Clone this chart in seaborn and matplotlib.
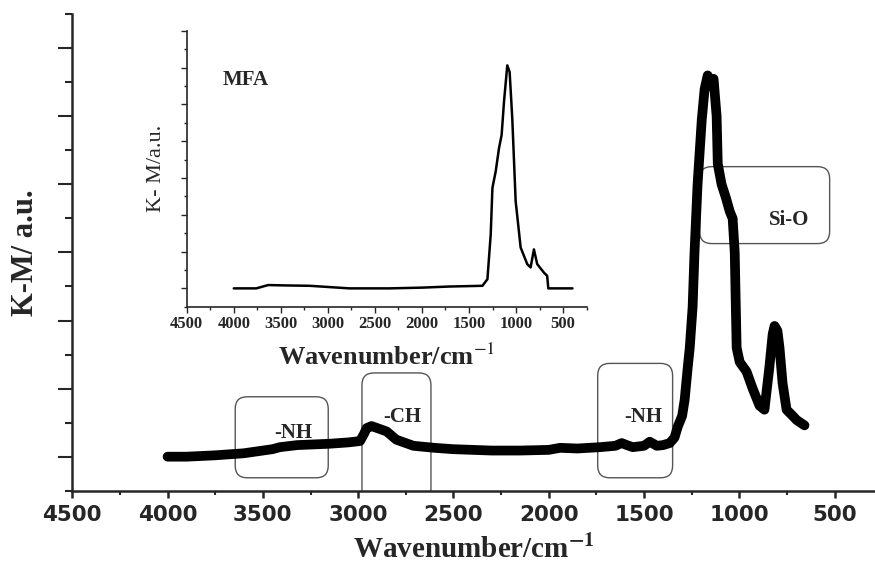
import matplotlib
matplotlib.use("Agg")
import pandas as pd
import matplotlib.pyplot as plt
import seaborn as sns
from matplotlib.patches import FancyBboxPatch
from matplotlib.transforms import IdentityTransform
from matplotlib.ticker import MultipleLocator

# main spectrum
main_wn = [4000, 3900, 3750, 3600, 3550, 3450, 3410, 3320, 3150, 3050, 2990, 2970,
           2955, 2930, 2900, 2850, 2800, 2750, 2710, 2600, 2500, 2300, 2150, 2000,
           1940, 1850, 1730, 1650, 1617, 1590, 1559, 1500, 1470, 1433, 1400, 1365,
           1340, 1323, 1300, 1287, 1271, 1260, 1245, 1235, 1219, 1197, 1182, 1166,
           1150, 1135, 1119, 1113, 1093, 1070, 1050, 1035, 1024, 1014, 998, 962,
           930, 894, 868, 842, 825, 815, 800, 789, 773, 752, 720, 700, 658]
main_km = [0.0, 0.0, 0.02, 0.05, 0.07, 0.11, 0.14, 0.17, 0.19, 0.21, 0.23, 0.33,
           0.42, 0.45, 0.42, 0.37, 0.25, 0.2, 0.16, 0.13, 0.11, 0.09, 0.09, 0.1,
           0.13, 0.12, 0.14, 0.16, 0.2, 0.17, 0.14, 0.16, 0.22, 0.16, 0.17, 0.2,
           0.28, 0.44, 0.6, 0.83, 1.3, 1.6, 2.2, 3.0, 4.0, 4.95, 5.4, 5.6,
           5.45, 5.55, 5.0, 4.3, 4.0, 3.8, 3.6, 3.5, 3.0, 1.6, 1.39, 1.25,
           1.0, 0.75, 0.69, 1.32, 1.8, 1.92, 1.85, 1.6, 1.08, 0.69, 0.6, 0.54, 0.46]

# inset spectrum (MFA)
inset_wn = [4000, 3760, 3635, 3450, 3193, 2770, 2346, 2000, 1710, 1357, 1304, 1269,
            1251, 1216, 1181, 1153, 1128, 1093, 1068, 1040, 1004, 951, 881, 845,
            810, 775, 704, 669, 657, 400]
inset_km = [0.0, 0.0, 0.09, 0.08, 0.07, 0.0, 0.0, 0.02, 0.05, 0.07, 0.25, 1.47,
            2.73, 3.18, 3.81, 4.17, 5.07, 6.06, 5.88, 4.62, 2.37, 1.11, 0.66, 0.57,
            1.06, 0.66, 0.43, 0.34, 0.0, 0.0]

tick_vals = [4500, 4000, 3500, 3000, 2500, 2000, 1500, 1000, 500]
tick_labels = [str(v) for v in tick_vals]

# annotation boxes: (left wn, right wn, bottom, top) and labels
box_x0 = [3645, 2980, 1743, 1208]
box_x1 = [3157, 2618, 1350, 526]
box_y0 = [-0.31, -0.8, -0.31, 3.13]
box_y1 = [0.88, 1.23, 1.37, 4.26]
band_labels = ["-NH", "-CH", "-NH", "Si-O"]
label_wn = [3342, 2770, 1506, 736]
label_km = [0.35, 0.58, 0.58, 3.47]

sns.set_style("ticks")
plt.rcParams["font.family"] = ["Liberation Serif", "DejaVu Serif"]
plt.rcParams["mathtext.fontset"] = "stix"

main_df = pd.DataFrame({"wn": main_wn, "km": main_km})
inset_df = pd.DataFrame({"wn": inset_wn, "km": inset_km})

fig = plt.figure(figsize=(8.75, 5.66), dpi=100)
ax = fig.add_axes([0.0826, 0.133, 0.9174, 0.842])
sns.lineplot(data=main_df, x="wn", y="km", ax=ax, color="black", linewidth=7,
             sort=False, estimator=None)
ax.set_xlim(4500, 288)
ax.set_ylim(-0.5, 6.5)
ax.set_xticks(tick_vals)
ax.set_xticklabels(tick_labels, fontfamily="DejaVu Sans", fontweight="bold", fontsize=15.5)
ax.xaxis.set_minor_locator(MultipleLocator(250))
ax.set_yticks(range(7))
ax.set_yticklabels([])
ax.yaxis.set_minor_locator(MultipleLocator(0.5))
ax.tick_params(axis="x", which="major", length=5, width=1.8, pad=5)
ax.tick_params(axis="x", which="minor", length=3, width=1.5)
ax.tick_params(axis="y", which="major", length=10, width=1.5)
ax.tick_params(axis="y", which="minor", length=5, width=1.5)
for s in ["top", "right"]:
    ax.spines[s].set_visible(False)
for s in ["left", "bottom"]:
    ax.spines[s].set_linewidth(1.8)
ax.set_xlabel(r"Wavenumber/cm$^{\mathbf{-1}}$", fontsize=21, fontweight="bold", labelpad=8)
ax.set_ylabel("K-M/ a.u.", fontsize=22, fontweight="bold", labelpad=10)

# rounded boxes drawn in pixel space so corners stay round
for x0, x1, y0, y1 in zip(box_x0, box_x1, box_y0, box_y1):
    (px0, py0), (px1, py1) = ax.transData.transform([(x0, y0), (x1, y1)])
    box = FancyBboxPatch((px0, py0), px1 - px0, py1 - py0,
                         boxstyle="round,pad=0,rounding_size=12",
                         transform=IdentityTransform(), facecolor="none",
                         edgecolor="#555555", linewidth=1.0)
    box.set_clip_path(ax.patch)
    ax.add_patch(box)
for t, x, y in zip(band_labels, label_wn, label_km):
    ax.text(x, y, t, ha="center", va="center", fontsize=15, fontweight="bold")

# inset
axin = fig.add_axes([0.2134, 0.458, 0.457, 0.4876])
sns.lineplot(data=inset_df, x="wn", y="km", ax=axin, color="black", linewidth=1.8,
             sort=False, estimator=None)
axin.set_xlim(4500, 250)
axin.set_ylim(-0.5, 7)
axin.set_xticks(tick_vals)
axin.set_xticklabels(tick_labels, fontweight="bold", fontsize=12)
axin.xaxis.set_minor_locator(MultipleLocator(250))
axin.set_yticks(range(8))
axin.set_yticklabels([])
axin.yaxis.set_minor_locator(MultipleLocator(0.5))
axin.tick_params(axis="both", which="major", length=4, width=1, pad=3)
axin.tick_params(axis="both", which="minor", length=2.5, width=1)
for s in ["top", "right"]:
    axin.spines[s].set_visible(False)
for s in ["left", "bottom"]:
    axin.spines[s].set_linewidth(1.2)
axin.set_xlabel(r"Wavenumber/cm$^{-1}$", fontsize=19, fontweight="bold", labelpad=8)
axin.set_ylabel("K- M/a.u.", fontsize=16, labelpad=8)
axin.text(0.09, 0.82, "MFA", transform=axin.transAxes, fontsize=15, fontweight="bold",
          ha="left", va="center")

fig.savefig("out.png", dpi=100)
